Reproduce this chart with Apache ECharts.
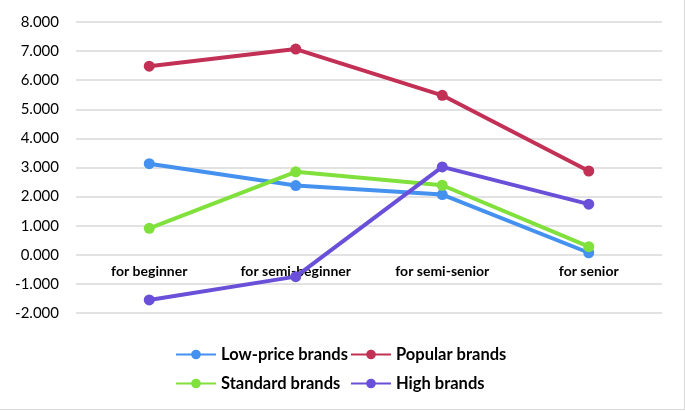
<!DOCTYPE html>
<html>
<head>
<meta charset="utf-8">
<script src="https://cdn.jsdelivr.net/npm/echarts@6/dist/echarts.min.js"></script>
<style>
  html, body { margin: 0; padding: 0; background: #fff; }
  #chart { width: 684px; height: 409px; border-right: 1px solid #d9d9d9; border-bottom: 1px solid #d9d9d9; }
</style>
</head>
<body>
<div id="chart"></div>
<script>
const categories = ['for beginner', 'for semi-beginner', 'for semi-senior', 'for senior']
const lowPrice = [3.13, 2.38, 2.07, 0.07]
const popular = [6.48, 7.07, 5.48, 2.88]
const standard = [0.91, 2.85, 2.39, 0.28]
const high = [-1.55, -0.75, 3.02, 1.74]

const chart = echarts.init(document.getElementById('chart'))

function line(name, data, color) {
  return {
    name: name,
    type: 'line',
    data: data,
    symbol: 'circle',
    symbolSize: 11,
    color: color,
    lineStyle: { width: 4, color: color },
    itemStyle: { color: color }
  }
}

const legendText = { fontFamily: 'Lato', fontWeight: 'bold', fontSize: 16.5, color: '#000' }

// grid is 291px tall for 10 units, so zero sits 2 units above the bottom
const zeroOffset = -291 * 2 / 10

chart.setOption({
  animation: false,
  grid: { left: 76, right: 22, top: 22, bottom: 96 },
  legend: [
    {
      orient: 'vertical', left: 170, top: 341, itemGap: 12,
      itemWidth: 40, itemHeight: 12, textStyle: legendText,
      data: ['Low-price brands', 'Standard brands']
    },
    {
      orient: 'vertical', left: 345, top: 341, itemGap: 12,
      itemWidth: 40, itemHeight: 12, textStyle: legendText,
      data: ['Popular brands', 'High brands']
    }
  ],
  xAxis: {
    type: 'category',
    data: categories,
    offset: zeroOffset,
    axisLine: { show: false, onZero: false },
    axisTick: { show: false },
    axisLabel: { fontFamily: 'Lato', fontWeight: 'bold', fontSize: 14, color: '#000', margin: 10 }
  },
  yAxis: {
    type: 'value',
    min: -2,
    max: 8,
    interval: 1,
    axisLabel: {
      fontFamily: 'Lato', fontSize: 15, color: '#000', margin: 17,
      formatter: v => v.toFixed(3)
    },
    splitLine: { lineStyle: { color: '#d9d9d9', width: 1.5 } }
  },
  series: [
    line('Low-price brands', lowPrice, '#4491f0'),
    line('Popular brands', popular, '#c33056'),
    line('Standard brands', standard, '#80e03c'),
    line('High brands', high, '#6a50d8')
  ]
})
</script>
</body>
</html>
